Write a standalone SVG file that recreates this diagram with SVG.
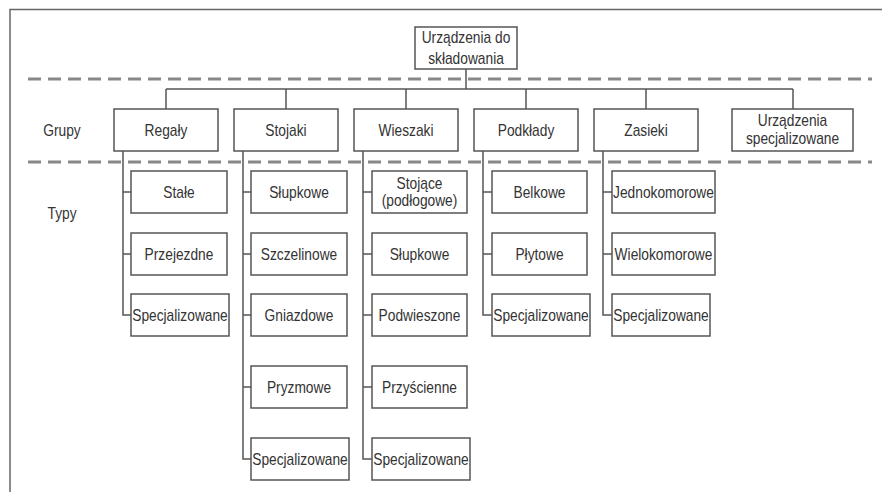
<svg xmlns="http://www.w3.org/2000/svg" width="882" height="492" viewBox="0 0 882 492">
<style>
.box{fill:#fff;stroke:#555;stroke-width:1.5}
.ln{fill:none;stroke:#555;stroke-width:1.5}
.dash{fill:none;stroke:#888;stroke-width:3;stroke-dasharray:13 7}
text{font-family:"Liberation Sans",Arial,sans-serif;font-size:16px;fill:#333;text-anchor:middle}
</style>
<rect width="882" height="492" fill="#fff"/>
<path d="M10 492V9.5H882" fill="none" stroke="#666" stroke-width="1.5"/>
<line class="dash" x1="28" y1="79" x2="872" y2="79"/>
<line class="dash" x1="28" y1="162" x2="872" y2="162"/>
<text transform="translate(62 136) scale(.86 1)">Grupy</text>
<text transform="translate(62 218.5) scale(.86 1)">Typy</text>
<g id="connectors">
<path class="ln" d="M466 69V89M166 89H793M166 89V109M286 89V109M406 89V109M526 89V109M646 89V109M793 89V109"/>
<path class="ln" d="M123 151V315H131M123 192H131M123 254H131"/>
<path class="ln" d="M243 151V459H251M243 192H251M243 254H251M243 315H251M243 387H251"/>
<path class="ln" d="M363 151V459H372M363 192H372M363 254H372M363 315H372M363 387H372"/>
<path class="ln" d="M483 151V315H492M483 192H492M483 254H492"/>
<path class="ln" d="M603 151V315H612M603 192H612M603 254H612"/>
</g>
<g id="root"><rect class="box" x="415" y="27" width="102" height="42"/><text transform="translate(466 43) scale(.86 1)">Urządzenia do</text><text transform="translate(466 64) scale(.86 1)">składowania</text></g>
<g id="g-regaly"><rect class="box" x="114" y="109" width="104" height="42"/><text transform="translate(166 136) scale(.86 1)">Regały</text></g>
<g id="g-stojaki"><rect class="box" x="234" y="109" width="104" height="42"/><text transform="translate(286 136) scale(.86 1)">Stojaki</text></g>
<g id="g-wieszaki"><rect class="box" x="354" y="109" width="104" height="42"/><text transform="translate(406 136) scale(.86 1)">Wieszaki</text></g>
<g id="g-podklady"><rect class="box" x="474" y="109" width="104" height="42"/><text transform="translate(526 136) scale(.86 1)">Podkłady</text></g>
<g id="g-zasieki"><rect class="box" x="594" y="109" width="104" height="42"/><text transform="translate(646 136) scale(.86 1)">Zasieki</text></g>
<g id="g-urz-spec"><rect class="box" x="732" y="109" width="121" height="42"/><text transform="translate(792.5 126) scale(.86 1)">Urządzenia</text><text transform="translate(792.5 144) scale(.86 1)">specjalizowane</text></g>

<g id="t-stale"><rect class="box" x="131" y="171" width="96" height="42"/><text transform="translate(179 197.5) scale(.86 1)">Stałe</text></g>
<g id="t-przejezdne"><rect class="box" x="131" y="233" width="96" height="42"/><text transform="translate(179 259.5) scale(.86 1)">Przejezdne</text></g>
<g id="t-regaly-spec"><rect class="box" x="131" y="294" width="98" height="42"/><text transform="translate(180 320.5) scale(.86 1)">Specjalizowane</text></g>

<g id="t-slupkowe1"><rect class="box" x="251" y="171" width="96" height="42"/><text transform="translate(299 197.5) scale(.86 1)">Słupkowe</text></g>
<g id="t-szczelinowe"><rect class="box" x="251" y="233" width="96" height="42"/><text transform="translate(299 259.5) scale(.86 1)">Szczelinowe</text></g>
<g id="t-gniazdowe"><rect class="box" x="251" y="294" width="96" height="42"/><text transform="translate(299 320.5) scale(.86 1)">Gniazdowe</text></g>
<g id="t-pryzmowe"><rect class="box" x="251" y="366" width="96" height="42"/><text transform="translate(299 392.5) scale(.86 1)">Pryzmowe</text></g>
<g id="t-stojaki-spec"><rect class="box" x="251" y="438" width="98" height="42"/><text transform="translate(300 464.5) scale(.86 1)">Specjalizowane</text></g>

<g id="t-stojace"><rect class="box" x="372" y="171" width="95" height="42"/><text transform="translate(419.5 188.5) scale(.86 1)">Stojące</text><text transform="translate(419.5 206) scale(.86 1)">(podłogowe)</text></g>
<g id="t-slupkowe2"><rect class="box" x="372" y="233" width="95" height="42"/><text transform="translate(419.5 259.5) scale(.86 1)">Słupkowe</text></g>
<g id="t-podwieszone"><rect class="box" x="372" y="294" width="95" height="42"/><text transform="translate(419.5 320.5) scale(.86 1)">Podwieszone</text></g>
<g id="t-przyscienne"><rect class="box" x="372" y="366" width="95" height="42"/><text transform="translate(419.5 392.5) scale(.86 1)">Przyścienne</text></g>
<g id="t-wieszaki-spec"><rect class="box" x="372" y="438" width="98" height="42"/><text transform="translate(421 464.5) scale(.86 1)">Specjalizowane</text></g>

<g id="t-belkowe"><rect class="box" x="492" y="171" width="95" height="42"/><text transform="translate(539.5 197.5) scale(.86 1)">Belkowe</text></g>
<g id="t-plytowe"><rect class="box" x="492" y="233" width="95" height="42"/><text transform="translate(539.5 259.5) scale(.86 1)">Płytowe</text></g>
<g id="t-podklady-spec"><rect class="box" x="492" y="294" width="98" height="42"/><text transform="translate(541 320.5) scale(.86 1)">Specjalizowane</text></g>

<g id="t-jednokomorowe"><rect class="box" x="612" y="171" width="103" height="42"/><text transform="translate(663.5 197.5) scale(.86 1)">Jednokomorowe</text></g>
<g id="t-wielokomorowe"><rect class="box" x="612" y="233" width="103" height="42"/><text transform="translate(663.5 259.5) scale(.86 1)">Wielokomorowe</text></g>
<g id="t-zasieki-spec"><rect class="box" x="612" y="294" width="98" height="42"/><text transform="translate(661 320.5) scale(.86 1)">Specjalizowane</text></g>
</svg>
